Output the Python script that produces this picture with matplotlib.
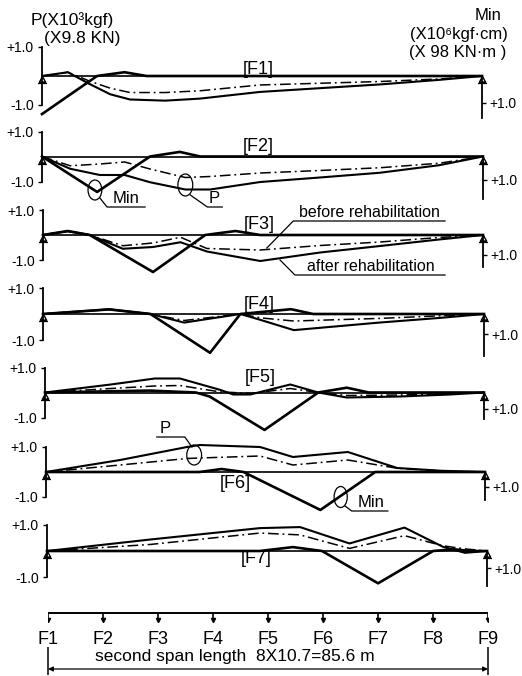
import matplotlib
matplotlib.use("Agg")
import matplotlib.pyplot as plt
from matplotlib.path import Path
from matplotlib.patches import Ellipse

plt.rcParams['font.family'] = ['Liberation Sans', 'DejaVu Sans']

# ---- data: stations 0..8 = F1..F9, P in x10^3 kgf (up +), Min in x10^6 kgf-cm (down +)
F1_X_P = [0, .47, .87, 1.24, 1.6, 2.24, 2.87, 3.96, 5.05, 6.15, 7.24, 8]
F1_P_AFTER = [0, .13, -.28, -.63, -.81, -.85, -.78, -.55, -.42, -.29, -.13, 0]
F1_P_BEFORE = [0, .13, -.18, -.42, -.57, -.57, -.51, -.31, -.25, -.19, -.1, 0]
F1_X_MIN = [0, 1.0, 1.5, 1.9, 8]
F1_MIN = [1.41, 0, -.14, 0, 0]

F2_X_P = [0, .51, 1.05, 1.5, 1.96, 2.6, 3.05, 3.96, 5.04, 6.13, 7.2, 8]
F2_P_AFTER = [0, -.49, -.74, -.74, -1.03, -1.32, -1.32, -1.02, -.84, -.65, -.35, 0]
F2_P_BEFORE = [0, -.37, -.3, -.22, -.5, -.84, -.8, -.66, -.56, -.45, -.27, 0]
F2_X_MIN = [0, 1.0, 1.96, 2.5, 2.87, 8]
F2_MIN = [0, 1.54, 0, -.2, 0, 0]

F3_X_P = [0, .45, .85, 1.45, 2.0, 2.5, 2.98, 3.95, 5.04, 6.13, 7.2, 8]
F3_P_AFTER = [0, .15, 0, -.55, -.48, -.29, -.66, -1.04, -.7, -.44, -.18, 0]
F3_P_BEFORE = [0, .15, 0, -.43, -.32, -.09, -.54, -.6, -.42, -.28, -.1, 0]
F3_X_MIN = [0, .45, .85, 2.0, 2.95, 3.5, 3.95, 8]
F3_MIN = [0, -.2, 0, 1.85, 0, -.2, 0, 0]

F4_X_P = [0, 1.2, 1.95, 2.56, 3.58, 3.95, 4.55, 6.1, 7.2, 8]
F4_P_AFTER = [0, .18, 0, -.33, 0, -.23, -.62, -.33, -.15, 0]
F4_P_BEFORE = [0, .18, 0, -.25, 0, -.15, -.27, -.17, -.07, 0]
F4_X_MIN = [0, 1.2, 1.95, 3.03, 3.58, 4.5, 4.9, 8]
F4_MIN = [0, -.23, 0, 1.94, 0, -.24, 0, 0]

F5_X_P = [0, 1.2, 2.0, 2.46, 3.2, 3.43, 3.74, 4.47, 4.98, 5.5, 6.47, 7.38, 8]
F5_P_AFTER = [0, .32, .56, .56, .1, -.08, -.08, .32, 0, -.2, -.16, -.08, 0]
F5_P_BEFORE = [0, .16, .26, .28, .02, 0, -.04, .16, 0, -.12, -.1, -.05, 0]
F5_X_MIN = [0, 1.9, 2.75, 3.0, 4.0, 4.98, 5.5, 5.9, 8]
F5_MIN = [0, -.12, 0, .25, 2.34, 0, -.3, 0, 0]

F6_X_P = [0, 1.35, 2.57, 2.8, 3.9, 4.5, 5.5, 6.4, 7.2, 8]
F6_P_AFTER = [0, .48, 1.0, 1.08, 1.0, .6, .8, .16, .05, 0]
F6_P_BEFORE = [0, .28, .54, .56, .64, .28, .48, .15, .04, 0]
F6_X_MIN = [0, 2.8, 3.2, 3.6, 5.0, 6.0, 8]
F6_MIN = [0, 0, -.2, 0, 2.53, 0, 0]

F7_X_P = [0, 1.87, 3.87, 4.6, 5.5, 6.5, 7.2, 7.6, 8]
F7_P_AFTER = [0, .44, .88, .92, .29, .9, .16, -.07, 0]
F7_P_BEFORE = [0, .25, .69, .62, .1, .59, .2, .08, 0]
F7_X_MIN = [0, 3.87, 4.47, 5.0, 6.02, 7.02, 7.4, 7.7, 8]
F7_MIN = [0, 0, -.23, 0, 1.9, 0, -.1, 0, 0]

PANEL_TAGS = ['[F1]', '[F2]', '[F3]', '[F4]', '[F5]', '[F6]', '[F7]']
STATIONS = [0, 1, 2, 3, 4, 5, 6, 7, 8]
STATION_LABELS = ['F1', 'F2', 'F3', 'F4', 'F5', 'F6', 'F7', 'F8', 'F9']

# ---- layout (pixels of the 522x676 picture)
W, H = 522, 676
LEFT_PX = [42, 42, 43, 43, 45, 46, 47]
RIGHT_PX = [482, 483, 483, 484, 484, 485, 487]
BASE_PX = [76, 156.5, 235, 314, 392.5, 472, 551]
P_UNIT_PX = [29, 25, 25, 26, 25, 25, 26]
MIN_UNIT_PX = [27, 23, 20, 20, 16, 15, 17]
MIN_SPINE_PX = [42, 42, 32, 42, 26, 28, 35]
TAG_X = [3.93, 3.93, 3.93, 3.93, 3.92, 3.45, 3.8]
TAG_Y = [.22, .4, .42, .37, .62, -.46, -.3]
YL = 1.7

panels = [
    (F1_X_P, F1_P_AFTER, F1_P_BEFORE, F1_X_MIN, F1_MIN),
    (F2_X_P, F2_P_AFTER, F2_P_BEFORE, F2_X_MIN, F2_MIN),
    (F3_X_P, F3_P_AFTER, F3_P_BEFORE, F3_X_MIN, F3_MIN),
    (F4_X_P, F4_P_AFTER, F4_P_BEFORE, F4_X_MIN, F4_MIN),
    (F5_X_P, F5_P_AFTER, F5_P_BEFORE, F5_X_MIN, F5_MIN),
    (F6_X_P, F6_P_AFTER, F6_P_BEFORE, F6_X_MIN, F6_MIN),
    (F7_X_P, F7_P_AFTER, F7_P_BEFORE, F7_X_MIN, F7_MIN),
]

fig = plt.figure(figsize=(W / 100, H / 100), dpi=100)

# support symbol: triangle hanging under the baseline + ground stroke
support = Path([(0, 0), (-0.55, -1), (0.55, -1), (0, 0), (-0.8, -1.25), (0.8, -1.25)],
               [Path.MOVETO, Path.LINETO, Path.LINETO, Path.CLOSEPOLY, Path.MOVETO, Path.LINETO])

dashdot = (0, (7, 2.5, 1.2, 2.5))
axes = []
for k, (xp, pa, pb, xm, mn) in enumerate(panels):
    l, r, b, u, um = LEFT_PX[k], RIGHT_PX[k], BASE_PX[k], P_UNIT_PX[k], MIN_UNIT_PX[k]
    ax = fig.add_axes([l / W, 1 - (b + YL * u) / H, (r - l) / W, 2 * YL * u / H])
    ax.set_xlim(0, 8)
    ax.set_ylim(-YL, YL)
    ax.patch.set_visible(False)
    for s in ['top', 'bottom', 'right']:
        ax.spines[s].set_visible(False)
    ax.spines['left'].set_bounds(-1, 1)
    ax.spines['left'].set_linewidth(1.3)
    ax.set_xticks([])
    ax.set_yticks([-1, 1])
    ax.set_yticklabels(['-1.0', '+1.0'])
    ax.tick_params(axis='y', direction='out', length=3, width=1, pad=3, labelsize=10)

    ax.axhline(0, color='k', lw=1.2)
    ax.plot(xp, pa, color='k', lw=1.5)
    ax.plot(xp, pb, color='k', lw=1.1, ls=dashdot)
    ax.plot([0, 8], [0, 0], ls='none', marker=support, ms=10, mfc='white', mec='k', mew=1, clip_on=False)
    ax.text(TAG_X[k], TAG_Y[k], PANEL_TAGS[k], ha='center', va='center', fontsize=13)

    am = ax.twinx()
    am.set_ylim(YL * u / um, -YL * u / um)
    for s in ['top', 'bottom', 'left']:
        am.spines[s].set_visible(False)
    am.spines['right'].set_bounds(0, MIN_SPINE_PX[k] / um)
    am.spines['right'].set_linewidth(1.3)
    am.set_yticks([1])
    am.set_yticklabels(['+1.0'])
    am.tick_params(axis='y', direction='out', length=3, width=1, pad=2, labelsize=10)
    am.plot(xm, mn, color='k', lw=1.9, clip_on=False)
    axes.append(ax)

thin = dict(color='k', lw=0.9, clip_on=False)

# F2: Min and P markers
a = axes[1]
a.add_patch(Ellipse((0.96, -1.34), 0.25, 0.8, fill=False, lw=0.9, clip_on=False))
a.plot([1.05, 1.18, 1.87], [-1.66, -2.02, -2.02], **thin)
a.text(1.53, -1.97, 'Min', ha='center', va='bottom', fontsize=12)
a.add_patch(Ellipse((2.6, -1.14), 0.27, 0.88, fill=False, lw=0.9, clip_on=False))
a.plot([2.69, 3.0, 3.27], [-1.54, -2.02, -2.02], **thin)
a.text(3.13, -1.97, 'P', ha='center', va='bottom', fontsize=12)

# F3: before / after rehabilitation
a = axes[2]
a.plot([4.07, 4.55, 7.31], [-0.52, 0.56, 0.56], **thin)
a.text(5.93, 0.6, 'before rehabilitation', ha='center', va='bottom', fontsize=11.5)
a.plot([4.31, 4.58, 7.31], [-1.0, -1.6, -1.6], **thin)
a.text(5.96, -1.56, 'after rehabilitation', ha='center', va='bottom', fontsize=11.5)

# F6: P and Min markers
a = axes[5]
a.add_patch(Ellipse((2.7, 0.68), 0.27, 0.8, fill=False, lw=0.9, clip_on=False))
a.plot([2.66, 2.53, 2.02], [1.0, 1.4, 1.4], **thin)
a.text(2.17, 1.44, 'P', ha='center', va='bottom', fontsize=12)
a.add_patch(Ellipse((5.37, -1.0), 0.24, 0.84, fill=False, lw=0.9, clip_on=False))
a.plot([5.45, 5.57, 6.23], [-1.36, -1.56, -1.56], **thin)
a.text(5.92, -1.52, 'Min', ha='center', va='bottom', fontsize=12)

# headers
fig.text(31 / W, 1 - 20 / H, 'P(X10³kgf)', ha='left', va='center', fontsize=12.5)
fig.text(44 / W, 1 - 39 / H, '(X9.8 KN)', ha='left', va='center', fontsize=12.5)
fig.text(488 / W, 1 - 15 / H, 'Min', ha='center', va='center', fontsize=12)
fig.text(459 / W, 1 - 35 / H, '(X10⁶kgf·cm)', ha='center', va='center', fontsize=12)
fig.text(458 / W, 1 - 53 / H, '(X 98 KN·m )', ha='center', va='center', fontsize=12)

# bottom station ruler (y in picture pixels)
rax = fig.add_axes([48 / W, 0, 440 / W, 80 / H])
rax.set_xlim(0, 8)
rax.set_ylim(676, 596)
rax.axis('off')
rax.hlines(613, 0, 8, color='k', lw=1.4)
rax.vlines(STATIONS, 613, 621, color='k', lw=1.2)
rax.plot(STATIONS, [620] * len(STATIONS), ls='none', marker='v', ms=3, color='k')
for s, lab in zip(STATIONS, STATION_LABELS):
    rax.text(s, 640, lab, ha='center', va='center', fontsize=13)
rax.vlines([0, 8], 647, 675, color='k', lw=1.1, clip_on=False)
rax.annotate('', xy=(0, 669), xytext=(8, 669),
             arrowprops=dict(arrowstyle='<|-|>', color='k', lw=0.9, mutation_scale=7, shrinkA=0, shrinkB=0))
rax.text(3.4, 657, 'second span length  8X10.7=85.6 m', ha='center', va='center', fontsize=12.5)

fig.savefig('out.png', dpi=100)
